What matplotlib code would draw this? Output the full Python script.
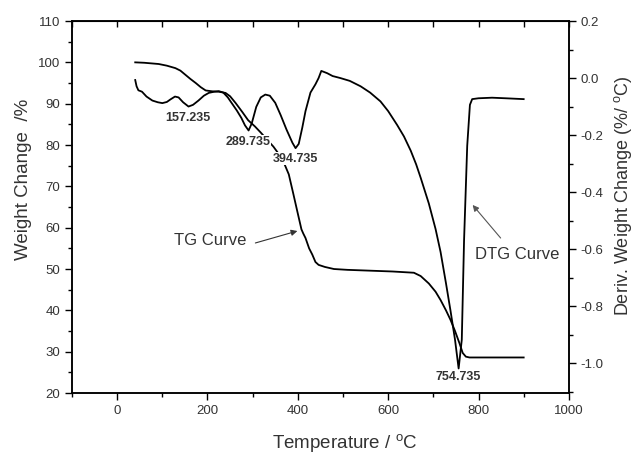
import matplotlib
matplotlib.use("Agg")
import matplotlib.pyplot as plt
from matplotlib.ticker import MultipleLocator, FormatStrFormatter

# 字体设置
plt.rcParams['font.family'] = ['Liberation Sans', 'DejaVu Sans']
plt.rcParams['mathtext.fontset'] = 'custom'
plt.rcParams['mathtext.rm'] = 'Liberation Sans'
plt.rcParams['mathtext.it'] = 'Liberation Sans:italic'
plt.rcParams['axes.unicode_minus'] = False

# TG 曲线 (Weight Change, %)
tg_temp = [40, 60, 92, 110, 129, 140, 151, 162, 174, 185, 196, 210, 225, 240, 250,
           262, 277, 290, 305, 318, 332, 346, 360, 370, 380, 390, 400, 408, 412, 417, 425,
           432, 439, 446, 460, 480, 510, 560, 610, 657, 672, 690, 705, 716, 728, 738,
           748, 758, 765, 772, 780, 800, 850, 900]
tg_weight = [100.0, 99.9, 99.6, 99.2, 98.6, 98.0, 97.0, 96.0, 95.0, 94.0, 93.2, 93.0, 92.9, 92.6, 91.8,
             90.2, 88.0, 86.0, 84.5, 83.0, 81.3, 79.6, 77.5, 75.5, 72.9, 68.2, 63.4, 59.6, 58.6, 57.5, 55.0,
             53.5, 51.7, 51.0, 50.5, 50.0, 49.8, 49.6, 49.4, 49.1, 48.3, 46.5, 44.5, 42.5, 40.0, 37.7,
             35.0, 32.0, 29.7, 28.8, 28.6, 28.6, 28.6, 28.6]

# DTG 曲线 (Deriv. Weight Change, %/oC)
dtg_temp = [40, 43, 47, 55, 65, 78, 90, 100, 110, 118, 128, 136, 146, 158, 168,
            180, 192, 203, 215, 225, 235, 245, 255, 265, 275, 283, 291, 298, 308, 318,
            328, 338, 350, 362, 375, 388, 395, 402, 410, 417, 428, 439, 446, 452, 465,
            477, 494, 515, 539, 560, 583, 600, 620, 635, 650, 662, 672, 690, 705, 716,
            728, 738, 748, 756, 763, 768, 775, 781, 786, 800, 830, 860, 900]
dtg_deriv = [-0.007, -0.029, -0.043, -0.048, -0.065, -0.079, -0.085, -0.088, -0.084, -0.075, -0.065, -0.068, -0.085, -0.100, -0.094,
             -0.079, -0.062, -0.052, -0.048, -0.046, -0.051, -0.068, -0.091, -0.114, -0.140, -0.166, -0.184, -0.159, -0.101, -0.068,
             -0.058, -0.062, -0.087, -0.130, -0.181, -0.227, -0.246, -0.231, -0.173, -0.116, -0.051, -0.022, 0.000, 0.025, 0.017,
             0.007, 0.000, -0.010, -0.029, -0.051, -0.082, -0.116, -0.165, -0.205, -0.255, -0.303, -0.350, -0.440, -0.530, -0.610,
             -0.720, -0.816, -0.918, -1.019, -0.918, -0.571, -0.238, -0.094, -0.074, -0.071, -0.069, -0.071, -0.074]

# 峰值温度
peak_temps = [157.235, 289.735, 394.735, 754.735]
peak_label_y = [86.6, 80.8, 76.7, 23.9]   # 标注位置 (左轴坐标)

text_color = '#333333'


def main():
    fig = plt.figure(figsize=(6.37, 4.57), dpi=100)
    ax = fig.add_axes([0.113, 0.140, 0.780, 0.814])
    ax2 = ax.twinx()

    ax.plot(tg_temp, tg_weight, color='black', lw=1.3)
    ax2.plot(dtg_temp, dtg_deriv, color='black', lw=1.3)

    ax.set_xlim(-100, 1000)
    ax.set_ylim(20, 110)
    ax2.set_ylim(-1.105, 0.2)

    # 刻度
    ax.xaxis.set_major_locator(MultipleLocator(200))
    ax.xaxis.set_minor_locator(MultipleLocator(100))
    ax.yaxis.set_major_locator(MultipleLocator(10))
    ax.yaxis.set_minor_locator(MultipleLocator(5))
    ax2.yaxis.set_major_locator(MultipleLocator(0.2))
    ax2.yaxis.set_minor_locator(MultipleLocator(0.1))
    ax2.yaxis.set_major_formatter(FormatStrFormatter('%.1f'))

    ax.tick_params(axis='both', which='major', direction='out', length=5, width=1,
                   labelsize=9.5, labelcolor=text_color)
    ax.tick_params(axis='both', which='minor', direction='out', length=3, width=1)
    ax2.tick_params(axis='y', which='major', direction='out', length=5, width=1,
                    labelsize=9.5, labelcolor=text_color)
    ax2.tick_params(axis='y', which='minor', direction='out', length=3, width=1)

    # 顶部刻度朝内
    top = ax.secondary_xaxis('top')
    top.xaxis.set_major_locator(MultipleLocator(200))
    top.xaxis.set_minor_locator(MultipleLocator(100))
    top.tick_params(axis='x', which='both', direction='in', length=4, width=1, labeltop=False)

    for a in (ax, ax2):
        for sp in a.spines.values():
            sp.set_linewidth(1.1)

    # 坐标轴标题
    ax.text(-0.097, 0.573, 'Weight Change  /%', transform=ax.transAxes, rotation=90,
            ha='center', va='center', fontsize=13.5, color=text_color)
    ax.text(0.549, -0.134, r'Temperature / $^{\mathrm{o}}$C', transform=ax.transAxes,
            ha='center', va='center', fontsize=13.5, color=text_color)
    ax.text(1.110, 0.53, r'Deriv. Weight Change (%/ $^{\mathrm{o}}$C)', transform=ax.transAxes,
            rotation=90, ha='center', va='center', fontsize=13, color=text_color)

    # 峰值标注
    for t, y in zip(peak_temps, peak_label_y):
        ax.text(t, y, f'{t:.3f}', ha='center', va='center', fontsize=9, fontweight='bold',
                color=text_color, zorder=5,
                bbox=dict(facecolor='white', edgecolor='none', pad=0.5))

    # 曲线说明
    ax.text(207, 57, 'TG Curve', ha='center', va='center', fontsize=12, color=text_color)
    ax.annotate('', xy=(399, 59.2), xytext=(306, 56.3),
                arrowprops=dict(arrowstyle='-|>', color=text_color, lw=0.8,
                                mutation_scale=9, shrinkA=0, shrinkB=0))
    ax.text(885, 53.4, 'DTG Curve', ha='center', va='center', fontsize=12, color=text_color)
    ax.annotate('', xy=(787, 65.5), xytext=(849, 57.5),
                arrowprops=dict(arrowstyle='-|>', color='#555555', lw=0.8,
                                mutation_scale=9, shrinkA=0, shrinkB=0))

    fig.savefig('out.png', dpi=100)


if __name__ == "__main__":
    main()
